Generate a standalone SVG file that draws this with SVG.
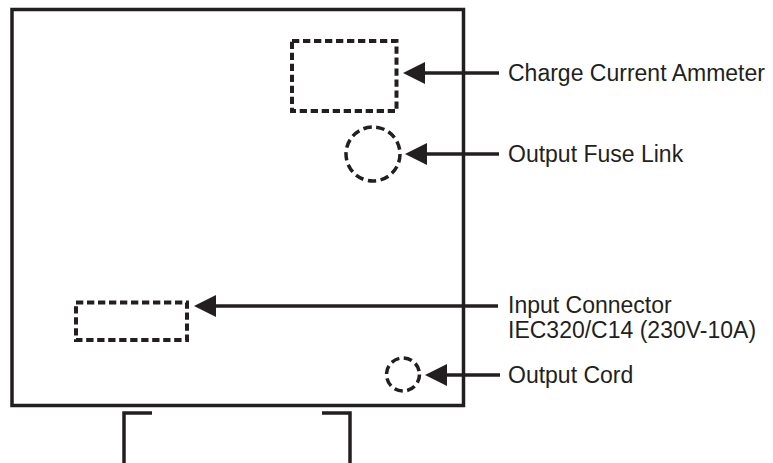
<svg xmlns="http://www.w3.org/2000/svg" width="773" height="463" viewBox="0 0 773 463">
<style>
.frame{fill:none;stroke:#231f20;stroke-width:3.5}
.dash{fill:none;stroke:#231f20;stroke-width:4;stroke-dasharray:7.3 3.7}
.dashc{fill:none;stroke:#231f20;stroke-width:3.5;stroke-dasharray:8.5 4.5}
.conn{fill:none;stroke:#231f20;stroke-width:3.5}
.lbl{font-family:"Liberation Sans",Arial,sans-serif;font-size:23px;fill:#231f20}
</style>
<defs>
<marker id="ah" markerUnits="userSpaceOnUse" viewBox="0 0 22 22" refX="0" refY="11" markerWidth="22" markerHeight="22" orient="auto">
<path d="M0,0 L22,11 L0,22 z" fill="#231f20"/>
</marker>
</defs>
<g id="cabinet">
<rect class="frame" x="12" y="9.5" width="451.5" height="396"/>
<path class="frame" d="M152,413 H124 V463"/>
<path class="frame" d="M322,413 H350 V463"/>
</g>
<g id="ammeter"><rect class="dash" x="292" y="41" width="104.5" height="70"/></g>
<g id="fuse"><circle class="dashc" cx="373" cy="154" r="27"/></g>
<g id="input"><rect class="dash" x="76" y="302.5" width="111" height="37.5"/></g>
<g id="cord"><circle class="dashc" cx="403" cy="374.5" r="16.5"/></g>
<g id="connectors">
<line class="conn" x1="499" y1="73" x2="425" y2="73" marker-end="url(#ah)"/>
<line class="conn" x1="499" y1="154" x2="427" y2="154" marker-end="url(#ah)"/>
<line class="conn" x1="498" y1="306" x2="216" y2="306" marker-end="url(#ah)"/>
<line class="conn" x1="500" y1="375" x2="447" y2="375" marker-end="url(#ah)"/>
</g>
<g id="labels">
<text class="lbl" x="508" y="81">Charge Current Ammeter</text>
<text class="lbl" x="508" y="162">Output Fuse Link</text>
<text class="lbl" x="508" y="313">Input Connector</text>
<text class="lbl" x="508" y="338">IEC320/C14 (230V-10A)</text>
<text class="lbl" x="508" y="383">Output Cord</text>
</g>
</svg>
